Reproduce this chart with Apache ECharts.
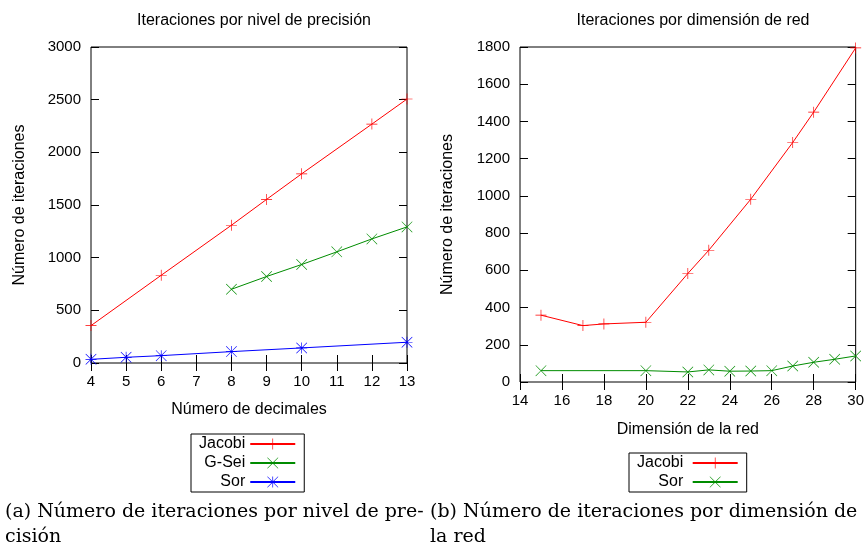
<!DOCTYPE html>
<html>
<head>
<meta charset="utf-8">
<script src="https://cdn.jsdelivr.net/npm/echarts@6/dist/echarts.min.js"></script>
<style>
html,body{margin:0;padding:0;background:#fff;}
#chart{width:867px;height:550px;}
</style>
</head>
<body>
<div id="chart"></div>
<script>
// ---- Data: left chart (iterations vs. number of decimals) ----
const decTicks = [4, 5, 6, 7, 8, 9, 10, 11, 12, 13];
const jacobiDecX = [4, 6, 8, 9, 10, 12, 13];
const jacobiDecY = [355, 833, 1308, 1553, 1796, 2268, 2506];
const gseiDecX = [8, 9, 10, 11, 12, 13];
const gseiDecY = [700, 821, 935, 1055, 1178, 1292];
const sorDecX = [4, 5, 6, 8, 10, 13];
const sorDecY = [35, 54, 70, 108, 143, 197];

// ---- Data: right chart (iterations vs. grid dimension) ----
const jacobiDimX = [15, 17, 18, 20, 22, 23, 25, 27, 28, 30];
const jacobiDimY = [359, 303, 312, 321, 583, 708, 982, 1287, 1450, 1795];
const sorDimX = [15, 20, 22, 23, 24, 25, 26, 27, 28, 29, 30];
const sorDimY = [61, 61, 54, 65, 58, 59, 61, 86, 106, 122, 140];

const titleLeft = 'Iteraciones por nivel de precisión';
const titleRight = 'Iteraciones por dimensión de red';
const yName = 'Número de iteraciones';
const xNameLeft = 'Número de decimales';
const xNameRight = 'Dimensión de la red';
const captionA = ['(a) Número de iteraciones por nivel de pre-', 'cisión'];
const captionB = ['(b) Número de iteraciones por dimensión de', 'la red'];

function pairs(xs, ys) { return xs.map((x, i) => [x, ys[i]]); }

const PLUS = 'path://M0,9.4h20v1.2h-20z M9.4,0h1.2v20h-1.2z';
const CROSS = 'path://M0.8,0 L10,9.2 L19.2,0 L20,0.8 L10.8,10 L20,19.2 L19.2,20 L10,10.8 L0.8,20 L0,19.2 L9.2,10 L0,0.8 Z';
const STAR = 'path://M0,9.4h20v1.2h-20z M9.4,0h1.2v20h-1.2z M0.8,0 L10,9.2 L19.2,0 L20,0.8 L10.8,10 L20,19.2 L19.2,20 L10,10.8 L0.8,20 L0,19.2 L9.2,10 L0,0.8 Z';

const RED = '#ff0000', GREEN = '#008c00', BLUE = '#0000ff';
const FONT = 'Liberation Sans';

function mkSeries(name, data, color, symbol, xi, yi) {
  return {
    type: 'line', name: name, data: data,
    xAxisIndex: xi, yAxisIndex: yi,
    symbol: symbol, symbolSize: 11,
    showAllSymbol: true,
    lineStyle: { color: color, width: 1 },
    itemStyle: { color: color },
    emphasis: { disabled: true },
    animation: false
  };
}

const tick = { show: true, inside: true, length: 8, lineStyle: { color: '#000', width: 1 } };
const lbl = (m) => ({ show: true, color: '#000', fontSize: 15, fontFamily: FONT, margin: m,
  formatter: (v) => String(v) });

function xAx(grid, min, max, interval, pos, labels, name, gap) {
  return {
    type: 'value', gridIndex: grid, position: pos, min: min, max: max, interval: interval,
    axisLine: { show: false }, splitLine: { show: false },
    axisTick: tick, axisLabel: labels ? lbl(11) : { show: false },
    name: name || '', nameLocation: 'middle', nameGap: gap || 0,
    nameTextStyle: { color: '#000', fontSize: 16, fontFamily: FONT }
  };
}
function yAx(grid, min, max, interval, pos, labels, name, gap) {
  return {
    type: 'value', gridIndex: grid, position: pos, min: min, max: max, interval: interval,
    axisLine: { show: false }, splitLine: { show: false },
    axisTick: tick, axisLabel: labels ? lbl(10) : { show: false },
    name: name || '', nameLocation: 'middle', nameGap: gap || 0,
    nameTextStyle: { color: '#000', fontSize: 16, fontFamily: FONT }
  };
}

const legendCommon = {
  orient: 'vertical', align: 'right',
  itemWidth: 45, itemHeight: 14, itemGap: 3,
  padding: [2, 8],
  borderColor: '#000', borderWidth: 1,
  textStyle: { color: '#000', fontSize: 16, fontFamily: FONT },
  selectedMode: false
};

const chart = echarts.init(document.getElementById('chart'), null, { renderer: 'canvas' });
chart.setOption({
  animation: false,
  backgroundColor: '#fff',
  title: [
    { text: titleLeft, left: 249, top: 8, textAlign: 'center',
      textStyle: { fontSize: 16, fontWeight: 'normal', color: '#000', fontFamily: FONT } },
    { text: titleRight, left: 688, top: 8, textAlign: 'center',
      textStyle: { fontSize: 16, fontWeight: 'normal', color: '#000', fontFamily: FONT } }
  ],
  grid: [
    { left: 91, top: 47, width: 316, height: 316, show: true, borderColor: '#000', borderWidth: 1, backgroundColor: 'transparent' },
    { left: 520, top: 47, width: 336, height: 335, show: true, borderColor: '#000', borderWidth: 1, backgroundColor: 'transparent' }
  ],
  xAxis: [
    xAx(0, decTicks[0], decTicks[decTicks.length - 1], 1, 'bottom', true, xNameLeft, 39),
    xAx(0, decTicks[0], decTicks[decTicks.length - 1], 1, 'top', false),
    xAx(1, 14, 30, 2, 'bottom', true, xNameRight, 40),
    xAx(1, 14, 30, 2, 'top', false)
  ],
  yAxis: [
    yAx(0, 0, 3000, 500, 'left', true, yName, 63),
    yAx(0, 0, 3000, 500, 'right', false),
    yAx(1, 0, 1800, 200, 'left', true, yName, 64),
    yAx(1, 0, 1800, 200, 'right', false)
  ],
  legend: [
    Object.assign({}, legendCommon, { left: 191, top: 434, data: ['Jacobi', 'G-Sei', 'Sor'] }),
    Object.assign({}, legendCommon, { left: 629, top: 453, data: ['Jacobi ', 'Sor '] })
  ],
  series: [
    mkSeries('Jacobi', pairs(jacobiDecX, jacobiDecY), RED, PLUS, 0, 0),
    mkSeries('G-Sei', pairs(gseiDecX, gseiDecY), GREEN, CROSS, 0, 0),
    mkSeries('Sor', pairs(sorDecX, sorDecY), BLUE, STAR, 0, 0),
    mkSeries('Jacobi ', pairs(jacobiDimX, jacobiDimY), RED, PLUS, 2, 2),
    mkSeries('Sor ', pairs(sorDimX, sorDimY), GREEN, CROSS, 2, 2)
  ],
  graphic: [
    { type: 'text', left: 5, top: 500, silent: true,
      style: { text: captionA.join('\n'), font: '19px "DejaVu Serif"', fill: '#000', lineHeight: 25 } },
    { type: 'text', left: 430, top: 500, silent: true,
      style: { text: captionB.join('\n'), font: '19px "DejaVu Serif"', fill: '#000', lineHeight: 25 } }
  ]
});
</script>
</body>
</html>
